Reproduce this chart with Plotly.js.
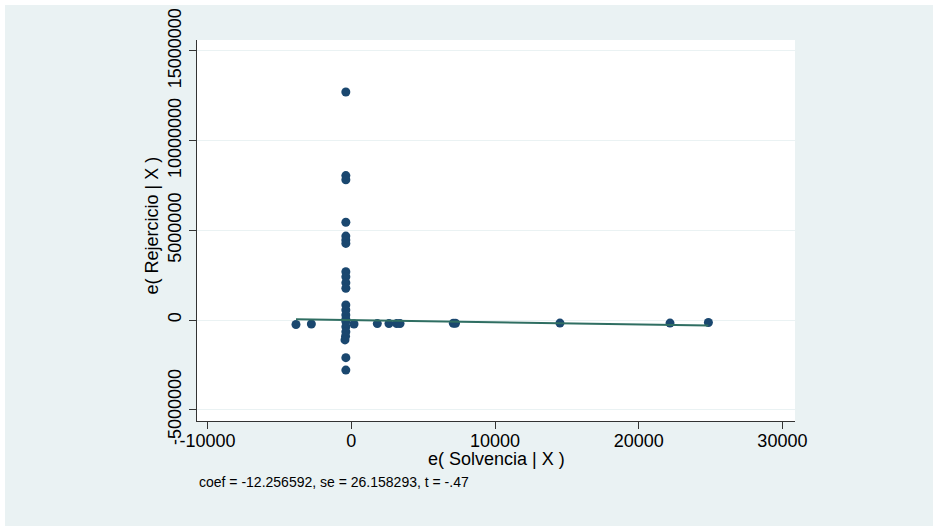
<!DOCTYPE html>
<html>
<head>
<meta charset="utf-8">
<script src="https://cdn.plot.ly/plotly-3.0.1.min.js"></script>
<style>
  html, body { margin: 0; padding: 0; background: #ffffff; }
  #chart { position: absolute; left: 5px; top: 5px; width: 928px; height: 521px; }
</style>
</head>
<body>
<div id="chart"></div>
<script>
// Residuals
const solvenciaRes = [
  -380, -380, -380, -380, -380, -380, -380, -380, -380, -380, -380,
  -380, -380, -380, -380, -380, -380, -380, -400, -440, -380, -380,
  -3850, -2780, 190, 1810, 2620, 3160, 3390, 7100, 7250, 14520, 22180, 24850
];
const rejercicioRes = [
  12710000, 8050000, 7820000, 5450000, 4680000, 4460000, 4270000, 2690000, 2410000, 2080000, 1770000,
  840000, 560000, 280000, 40000, -90000, -370000, -650000, -900000, -1110000, -2100000, -2790000,
  -250000, -220000, -220000, -200000, -200000, -200000, -200000, -180000, -180000, -170000, -170000, -140000
];
// Fitted line end points (slope = coef)
const fitX = [-3850, 24850];
const fitY = [47000, -305000];

const xTickVals = [-10000, 0, 10000, 20000, 30000];
const xTickText = ["-10000", "0", "10000", "20000", "30000"];
const yTickVals = [-5000000, 0, 5000000, 10000000, 15000000];
const yTickText = ["-5000000", "0", "5000000", "10000000", "15000000"];

const xTitle = "e( Solvencia | X )";
const yTitle = "e( Rejercicio | X )";
const note = "coef = -12.256592, se = 26.158293, t = -.47";

const FONT = "Liberation Sans, Arial, Helvetica, sans-serif";

const traces = [
  {
    x: solvenciaRes, y: rejercicioRes, type: "scatter", mode: "markers",
    marker: { color: "#1a476f", size: 9, line: { width: 0 } },
    hoverinfo: "skip", showlegend: false
  },
  {
    x: fitX, y: fitY, type: "scatter", mode: "lines",
    line: { color: "#2f6e62", width: 2 },
    hoverinfo: "skip", showlegend: false
  }
];

const layout = {
  width: 928, height: 521,
  margin: { l: 192, r: 138, t: 35, b: 105, pad: 0 },
  paper_bgcolor: "#eaf2f3",
  plot_bgcolor: "#ffffff",
  font: { family: FONT, size: 18, color: "#000000" },
  showlegend: false,
  xaxis: {
    range: [-10738, 30877],
    tickvals: xTickVals, ticktext: xTickText,
    ticks: "outside", ticklen: 7, tickwidth: 1, tickcolor: "#333333",
    showline: true, linecolor: "#333333", linewidth: 1, mirror: false,
    showgrid: false, zeroline: false,
    tickfont: { family: FONT, size: 18, color: "#000000" },
    ticklabelstandoff: -4
  },
  yaxis: {
    range: [-5630000, 15610000],
    tickvals: yTickVals, ticktext: yTickText,
    tickangle: -90,
    ticks: "outside", ticklen: 7, tickwidth: 1, tickcolor: "#333333",
    showline: true, linecolor: "#333333", linewidth: 1, mirror: false,
    showgrid: true, gridcolor: "#eaf2f3", gridwidth: 1,
    zeroline: false,
    tickfont: { family: FONT, size: 18, color: "#000000" },
    ticklabelstandoff: 1
  },
  annotations: [
    { text: xTitle, xref: "paper", yref: "paper", x: 0.5, y: 0, xanchor: "center", yanchor: "middle",
      yshift: -38, showarrow: false, font: { family: FONT, size: 18, color: "#000000" } },
    { text: yTitle, xref: "paper", yref: "paper", x: 0, y: 0.5, xanchor: "center", yanchor: "middle",
      xshift: -46, yshift: 5, textangle: -90, showarrow: false, font: { family: FONT, size: 18, color: "#000000" } },
    { text: note, xref: "paper", yref: "paper", x: 0, y: 0, xanchor: "left", yanchor: "middle",
      xshift: 0, yshift: -61, showarrow: false, font: { family: FONT, size: 14, color: "#000000" } }
  ]
};

Plotly.newPlot("chart", traces, layout, { displayModeBar: false, staticPlot: true });
</script>
</body>
</html>
